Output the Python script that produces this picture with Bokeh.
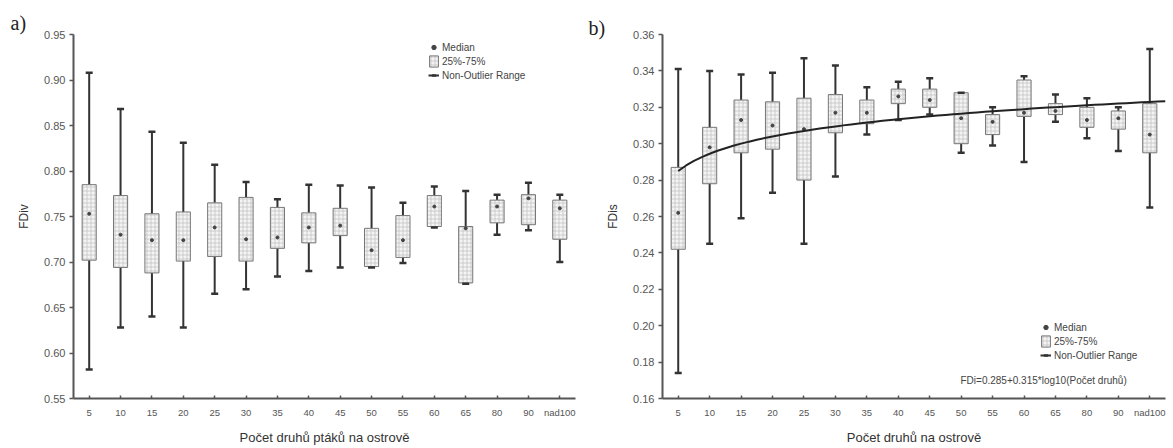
import math
from bokeh.plotting import figure
from bokeh.layouts import row
from bokeh.models import (FactorRange, Label, Legend, LegendItem, ColumnDataSource,
                          FixedTicker, NumeralTickFormatter)
from bokeh.embed import file_html
from bokeh.resources import INLINE

categories = ["5", "10", "15", "20", "25", "30", "35", "40", "45", "50",
              "55", "60", "65", "80", "90", "nad100"]

# Panel a) FDiv
a_whisker_low = [0.582, 0.628, 0.640, 0.628, 0.665, 0.670, 0.684, 0.690,
                 0.694, 0.694, 0.699, 0.738, 0.676, 0.730, 0.735, 0.700]
a_q1 = [0.702, 0.694, 0.688, 0.701, 0.706, 0.701, 0.715, 0.721,
        0.729, 0.695, 0.705, 0.739, 0.677, 0.743, 0.741, 0.725]
a_median = [0.753, 0.730, 0.724, 0.724, 0.738, 0.725, 0.727, 0.738,
            0.740, 0.713, 0.724, 0.761, 0.737, 0.761, 0.770, 0.759]
a_q3 = [0.785, 0.773, 0.753, 0.755, 0.765, 0.771, 0.760, 0.754,
        0.759, 0.737, 0.751, 0.773, 0.739, 0.768, 0.774, 0.768]
a_whisker_high = [0.908, 0.868, 0.843, 0.831, 0.807, 0.788, 0.769, 0.785,
                  0.784, 0.782, 0.765, 0.783, 0.778, 0.774, 0.787, 0.774]
a_yticks = [0.55, 0.60, 0.65, 0.70, 0.75, 0.80, 0.85, 0.90, 0.95]

# Panel b) FDis
b_whisker_low = [0.174, 0.245, 0.259, 0.273, 0.245, 0.282, 0.305, 0.313,
                 0.316, 0.295, 0.299, 0.290, 0.312, 0.303, 0.296, 0.265]
b_q1 = [0.242, 0.278, 0.295, 0.297, 0.280, 0.306, 0.311, 0.322,
        0.320, 0.300, 0.305, 0.315, 0.316, 0.309, 0.308, 0.295]
b_median = [0.262, 0.298, 0.313, 0.310, 0.308, 0.317, 0.317, 0.326,
            0.324, 0.314, 0.312, 0.317, 0.318, 0.313, 0.314, 0.305]
b_q3 = [0.287, 0.309, 0.324, 0.323, 0.325, 0.327, 0.324, 0.330,
        0.330, 0.328, 0.316, 0.335, 0.322, 0.320, 0.318, 0.322]
b_whisker_high = [0.341, 0.340, 0.338, 0.339, 0.347, 0.343, 0.331, 0.334,
                  0.336, 0.328, 0.320, 0.337, 0.327, 0.325, 0.320, 0.352]
b_yticks = [0.16, 0.18, 0.20, 0.22, 0.24, 0.26, 0.28, 0.30, 0.32, 0.34, 0.36]

# regression shown in panel b (x = category order)
fit_a = 0.285
fit_b = 0.0315
fit_positions = [1 + k * 0.25 for k in range(63)]  # 1 .. 16.5

FONT = "Liberation Sans"


def make_panel(width, yr, yticks, left, right, top, bottom, ylabel, xlabel,
               wl, q1, med, q3, wh, tag, tag_offset, tag_standoff):
    p = figure(x_range=FactorRange(*categories), y_range=yr, width=width, height=448,
               output_backend="svg", toolbar_location=None,
               min_border_left=left, min_border_right=right,
               min_border_top=top, min_border_bottom=bottom)
    p.outline_line_color = None
    p.xgrid.visible = False
    p.ygrid.visible = False
    p.background_fill_color = "white"
    p.border_fill_color = "white"

    p.title.text = tag
    p.title.align = "left"
    p.title.offset = tag_offset
    p.title.standoff = tag_standoff
    p.title.text_font = "Liberation Serif"
    p.title.text_font_size = "20px"
    p.title.text_font_style = "normal"
    p.title.text_color = "#222222"

    for ax in (p.xaxis[0], p.yaxis[0]):
        ax.axis_line_color = "#555555"
        ax.axis_line_width = 2
        ax.major_tick_line_color = "#555555"
        ax.major_tick_line_width = 1.5
        ax.minor_tick_line_color = None
        ax.major_label_text_font = FONT
        ax.major_label_text_color = "#555555"
        ax.axis_label_text_font = FONT
        ax.axis_label_text_font_style = "normal"
        ax.axis_label_text_color = "#333333"
    p.yaxis.major_label_text_font_size = "11px"
    p.xaxis.major_label_text_font_size = "9.5px"
    p.yaxis.ticker = FixedTicker(ticks=yticks)
    p.yaxis.formatter = NumeralTickFormatter(format="0.00")
    p.yaxis.major_tick_in = 0
    p.yaxis.major_tick_out = 4
    p.yaxis.major_label_standoff = 4
    p.yaxis.axis_label = ylabel
    p.yaxis.axis_label_text_font_size = "12px"
    p.yaxis.axis_label_standoff = 10
    p.xaxis.major_tick_in = 3
    p.xaxis.major_tick_out = 0
    p.xaxis.major_label_standoff = 8
    p.xaxis.axis_label = xlabel
    p.xaxis.axis_label_text_font_size = "13px"
    p.xaxis.axis_label_standoff = 9

    src = ColumnDataSource(dict(cat=categories, wl=wl, q1=q1, med=med, q3=q3, wh=wh))
    seg = p.segment(x0="cat", y0="wl", x1="cat", y1="wh", source=src,
                    line_color="#333333", line_width=2)
    box = p.vbar(x="cat", top="q3", bottom="q1", width=0.45, source=src,
                 fill_color="#f4f4f4", line_color="#777777", line_width=1,
                 hatch_pattern="+", hatch_scale=4, hatch_color="#b5b5b5",
                 hatch_weight=0.6)
    mdn = p.scatter(x="cat", y="med", source=src, marker="circle", size=3,
                    fill_color="#444444", line_color="#444444")
    cap_hi = p.scatter(x="cat", y="wh", source=src, marker="dash", size=7,
                       line_color="#333333", line_width=2.5)
    cap_lo = p.scatter(x="cat", y="wl", source=src, marker="dash", size=7,
                       line_color="#333333", line_width=2.5)
    return p, mdn, box, seg, cap_hi, cap_lo


def add_legend(p, mdn, box, seg, cap_hi, cap_lo, loc):
    leg = Legend(items=[LegendItem(label="Median", renderers=[mdn]),
                        LegendItem(label="25%-75%", renderers=[box]),
                        LegendItem(label="Non-Outlier Range", renderers=[seg, cap_hi])],
                 location=loc, padding=0, spacing=0, margin=0,
                 glyph_width=11, glyph_height=14, label_height=14, label_standoff=3,
                 label_text_font=FONT, label_text_font_size="10px",
                 label_text_color="#444444",
                 border_line_color=None, background_fill_alpha=0)
    p.add_layout(leg)


pa, m1, b1, s1, ch1, cl1 = make_panel(
    580, (0.55, 0.95), a_yticks, 73, 5, 32, 50, "FDiv",
    "Počet druhů ptáků na ostrově",
    a_whisker_low, a_q1, a_median, a_q3, a_whisker_high, "a)", -63, 1)
add_legend(pa, m1, b1, s1, ch1, cl1, (355, 316))

pb, m2, b2, s2, ch2, cl2 = make_panel(
    593, (0.16, 0.36), b_yticks, 82, 8, 34, 46, "FDis",
    "Počet druhů na ostrově",
    b_whisker_low, b_q1, b_median, b_q3, b_whisker_high, "b)", -74, -8)

fit_x = [t - 0.5 for t in fit_positions]
fit_y = [fit_a + fit_b * math.log10(t) for t in fit_positions]
pb.line(x=fit_x, y=fit_y, line_color="#222222", line_width=2)
add_legend(pb, m2, b2, s2, ch2, cl2, (378, 36))
pb.add_layout(Label(x=298, y=18, x_units="screen", y_units="screen",
                    text="FDi=0.285+0.315*log10(Počet druhů)",
                    text_font=FONT, text_font_size="10px",
                    text_color="#444444", text_baseline="middle"))

layout = row(pa, pb)
open("out.html", "w").write(file_html(layout, INLINE))
